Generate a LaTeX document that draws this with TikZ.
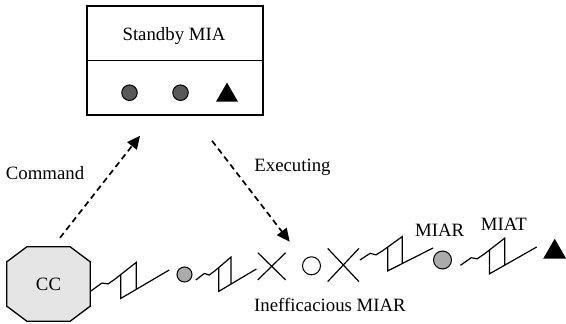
\documentclass[tikz,border=0pt]{standalone}
\usepackage{fontspec}
\setmainfont{Liberation Serif}
\usetikzlibrary{calc,arrows.meta,shapes.misc,shapes.geometric}
\begin{document}
\begin{tikzpicture}[x=1pt,y=-1pt,
  lbl/.style={font=\fontsize{18.8}{21}\selectfont, anchor=base, inner sep=0pt},
  darkdot/.style={circle, draw, line width=1pt, fill=black!65, minimum width=15.5pt, minimum height=14.5pt, inner sep=0pt},
  graydot/.style={circle, draw, line width=1pt, fill=black!33, inner sep=0pt},
  opendot/.style={circle, draw, line width=1pt, fill=white, inner sep=0pt},
  blacktri/.style={regular polygon, regular polygon sides=3, fill=black, inner sep=0pt},
  xmark/.style={cross out, draw, line width=1.2pt, inner sep=0pt},
  cmdarrow/.style={line width=1.7pt, dash pattern=on 6pt off 4pt, -{Triangle[length=13pt,width=12pt]}},
  bolt/.style={line width=1.2pt, line join=miter, to path={
    ($(\tikztostart)!0.14!(\tikztotarget)+(0,-5)$)
    -- ($(\tikztostart)!0.22!(\tikztotarget)+(0,-2.5)$)
    -- ($(\tikztostart)!0.31!(\tikztotarget)+(0,-5.5)$)
    -- ($(\tikztostart)!0.58!(\tikztotarget)+(0,-16.5)$)
    -- ($(\tikztostart)!0.58!(\tikztotarget)+(0,10.4)$)
    ($(\tikztostart)!0.38!(\tikztotarget)+(0,-8.3)$)
    -- ($(\tikztostart)!0.38!(\tikztotarget)+(0,15.5)$)
    -- (\tikztotarget)
    (\tikztostart) -- ($(\tikztostart)!0.14!(\tikztotarget)+(0,-5)$)
  }}
]
\useasboundingbox (0,0) rectangle (566,324);
% standby box
\node (box) [draw, line width=1.5pt, minimum width=176pt, minimum height=109pt, inner sep=0pt] at (175,60.5) {};
\draw[line width=1.5pt] (box.west) -- (box.east);
\node (sbt) [lbl] at (174,40.7) {Standby MIA};
\node (d1) [darkdot] at (129.5,92.7) {};
\node (d2) [darkdot] at (180.5,92.7) {};
\node (t1) [blacktri, minimum size=25.4pt] at (227,95.3) {};
% CC octagon
\node (cc) [minimum width=83pt, minimum height=74pt, inner sep=0pt] at (48.5,284) {};
\draw[line width=1.3pt, fill=black!10]
  ([xshift=20pt]cc.north west) -- ([xshift=-20pt]cc.north east)
  -- ([yshift=-15pt]cc.north east) -- ([yshift=15pt]cc.south east)
  -- ([xshift=-20pt]cc.south east) -- ([xshift=20pt]cc.south west)
  -- ([yshift=15pt]cc.south west) -- ([yshift=-15pt]cc.north west) -- cycle;
\node (cct) [font=\fontsize{18.8}{21}\selectfont, inner sep=0pt] at (cc.center) {CC};
% chain
\node (c1) [graydot, minimum size=15pt] at (184.5,274.5) {};
\node (x1) [xmark, minimum width=26.6pt, minimum height=26pt] at (271.7,266.3) {};
\node (o1) [opendot, minimum size=18pt] at (311.5,265.8) {};
\node (x2) [xmark, minimum width=30pt, minimum height=32pt] at (343.3,265) {};
\node (c2) [graydot, minimum size=18pt] at (442.5,260) {};
\node (t2) [blacktri, minimum size=26.5pt] at (554.7,252) {};
% bolts
\draw[bolt] ([xshift=0.7pt,yshift=-7pt]cc.east) to ([xshift=-7.3pt,yshift=4.5pt]c1.west);
\draw[bolt] ([xshift=3.3pt,yshift=-5.5pt]c1.east) to ([xshift=-1.4pt,yshift=-2.7pt]x1.west);
\draw[bolt] ([xshift=1pt,yshift=5pt]x2.east) to ([yshift=12pt]c2.west);
\draw[bolt] ([xshift=8.5pt,yshift=-5.3pt]c2.east) to ([xshift=-18pt,yshift=5pt]t2.center);
% dashed arrows
\draw[cmdarrow] ([xshift=11.5pt,yshift=9pt]cc.north) -- ([xshift=-35pt,yshift=-20pt]box.south);
\draw[cmdarrow] ([xshift=37pt,yshift=-25pt]box.south) -- ([xshift=18pt,yshift=11pt]x1.north);
% labels
\node (cmd) [lbl] at (45,179) {Command};
\node (exe) [lbl] at (292.5,171.7) {Executing};
\node (miar) [lbl] at (439.7,236.7) {MIAR};
\node (miat) [lbl] at (503.8,230.7) {MIAT};
\node (inef) [lbl] at (330,311) {Inefficacious MIAR};
\end{tikzpicture}
\end{document}
